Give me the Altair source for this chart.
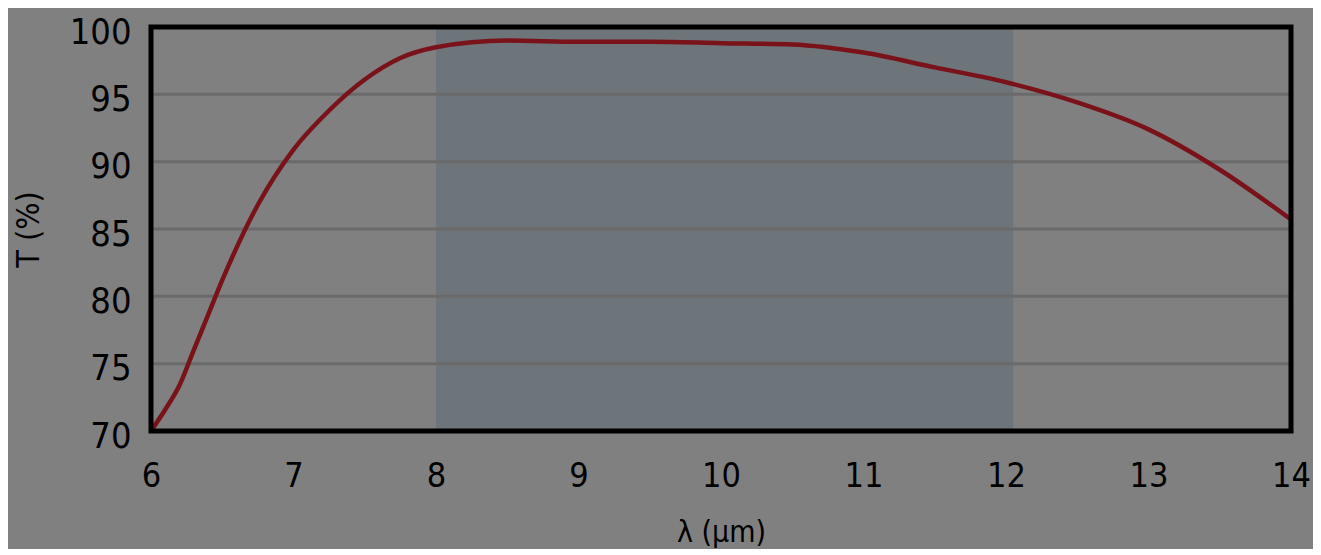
import altair as alt
import pandas as pd

wavelength = [6.0, 6.1, 6.2, 6.3, 6.4, 6.5, 6.75, 7.0, 7.25, 7.5, 7.75, 8.0, 8.5, 9.0, 9.5, 10.0, 10.5, 11.0, 11.5, 12.0, 12.5, 13.0, 13.5, 14.0]
transmission = [70.0, 71.6, 73.4, 76.0, 78.6, 81.2, 86.8, 90.9, 93.8, 96.1, 97.7, 98.5, 99.0, 98.9, 98.9, 98.8, 98.7, 98.1, 97.0, 95.9, 94.4, 92.4, 89.4, 85.7]
band_start = [8.0]
band_end = [12.05]
x_ticks = [6, 7, 8, 9, 10, 11, 12, 13, 14]
y_ticks = [70, 75, 80, 85, 90, 95, 100]

FONT = "DejaVu Sans Condensed, Roboto, sans-serif"
W, H = 1140, 404

curve = pd.DataFrame({"wl": wavelength, "t": transmission})
band = pd.DataFrame({"x1": band_start, "x2": band_end})

xscale = alt.Scale(domain=[6, 14], nice=False, zero=False)
yscale = alt.Scale(domain=[70, 100], nice=False, zero=False)

rect = alt.Chart(band).mark_rect(color="#6d747a").encode(
    x=alt.X("x1:Q", scale=xscale,
            axis=alt.Axis(values=x_ticks, format="d", title="λ (μm)", grid=False, ticks=False, domain=False,
                          labelFontSize=34, labelPadding=28, titleFontSize=30, titlePadding=24,
                          labelFlush=False, labelFont=FONT, titleFont=FONT, labelColor="black",
                          titleColor="black", titleFontWeight="normal")),
    x2="x2:Q",
    y=alt.value(0),
    y2=alt.value(H),
)

grid = alt.Chart(pd.DataFrame({"g": y_ticks[1:-1]})).mark_rule(color="#6a6a6a", strokeWidth=3).encode(
    y=alt.Y("g:Q", scale=yscale)
)

line = alt.Chart(curve).mark_line(color="#7a1219", strokeWidth=4.5, interpolate="monotone", clip=True).encode(
    x=alt.X("wl:Q", scale=xscale),
    y=alt.Y("t:Q", scale=yscale,
            axis=alt.Axis(values=y_ticks, format="d", title="T (%)", grid=False,
                          ticks=False, domain=False, labelFontSize=36, labelPadding=20, labelOffset=5,
                          labelFlush=False, titleFontSize=32, titlePadding=24, labelFont=FONT,
                          titleFont=FONT, labelColor="black", titleColor="black",
                          titleFontWeight="normal")),
)

frame = alt.Chart(band).mark_rect(fill=None, stroke="black", strokeWidth=5).encode(
    x=alt.value(0), x2=alt.value(W), y=alt.value(0), y2=alt.value(H)
)

chart = alt.layer(rect, grid, line, frame).properties(
    width=W, height=H, background="#808080",
    padding={"left": 143, "top": 19, "right": 22, "bottom": 118},
    autosize=alt.AutoSizeParams(type="none"),
).configure_view(stroke=None)

chart.save("out.html", embed_options={"renderer": "svg", "actions": False})
